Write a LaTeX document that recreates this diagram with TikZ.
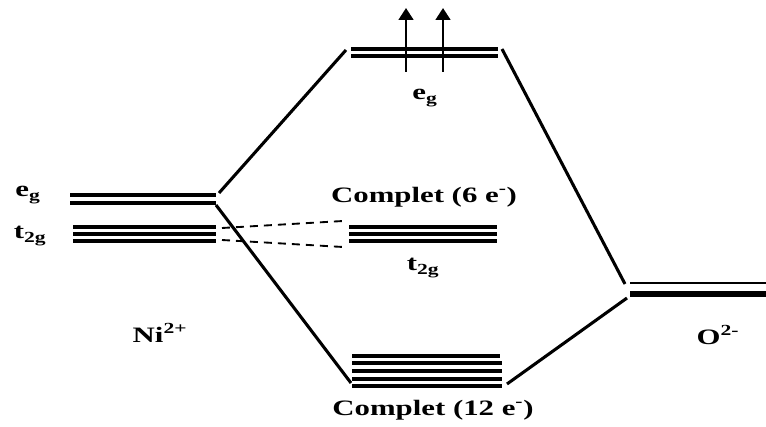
\documentclass[tikz,border=0pt]{standalone}
\usepackage{fontspec}
\setmainfont{Liberation Serif}[FakeStretch=1.4]
\usetikzlibrary{arrows.meta}
\tikzset{
  lvl/.style={line width=2.5pt},
  lvlthick/.style={line width=3.6pt},
  conn/.style={line width=2.3pt},
  dconn/.style={line width=1.4pt, dash pattern=on 6pt off 4.5pt},
  spin/.style={line width=2pt, -{Triangle[width=11pt,length=9pt]}},
  lbl/.style={font=\fontsize{16.5}{18}\selectfont\bfseries, inner sep=0pt},
}
\begin{document}
\begin{tikzpicture}[x=0.75pt,y=-0.75pt]
\useasboundingbox (0,0) rectangle (766,427);
% left Ni levels
\draw[lvl] (70,195) -- (216,195);
\draw[lvl] (70,203) -- (216,203);
\foreach \y in {227,234,241} \draw[lvl] (73,\y) -- (216,\y);
% top eg
\draw[lvl] (351,49) -- (498,49);
\draw[lvl] (351,56) -- (498,56);
% middle t2g
\foreach \y in {227,234,241} \draw[lvl] (349,\y) -- (497,\y);
% bottom bonding
\draw[lvlthick] (352,356) -- (500,356);
\foreach \y in {363,371,379,386} \draw[lvl] (352,\y) -- (502,\y);
% O levels
\draw[line width=1.9pt] (630,283) -- (766,283);
\draw[line width=4pt] (630,294) -- (766,294);
% coordinates
\coordinate (egL) at (219,193);
\coordinate (egLb) at (216,205);
\coordinate (egT) at (346,50);
\coordinate (egTr) at (502,49);
\coordinate (bL) at (351,383);
\coordinate (bR) at (507,384);
\coordinate (Ot) at (625,284);
\coordinate (Ob) at (627,298);
\coordinate (tL1) at (222,228);
\coordinate (tL2) at (222,240);
\coordinate (tM1) at (343,221);
\coordinate (tM2) at (343,247);
\coordinate (a1s) at (406,72);
\coordinate (a1e) at (406,8);
\coordinate (a2s) at (443,72);
\coordinate (a2e) at (443,8);
% connectors
\draw[conn] (egL) -- (egT);
\draw[conn] (egLb) -- (bL);
\draw[conn] (egTr) -- (Ot);
\draw[conn] (Ob) -- (bR);
\draw[dconn] (tL1) -- (tM1);
\draw[dconn] (tL2) -- (tM2);
\draw[spin] (a1s) -- (a1e);
\draw[spin] (a2s) -- (a2e);
% labels
\node[lbl] (egtop) at (425,98) {e\textsubscript{g}};
\node[lbl] (c6) at (424,197) {Complet (6 e\textsuperscript{-})};
\node[lbl] (t2m) at (423,268) {t\textsubscript{2g}};
\node[lbl] (c12) at (433,410) {Complet (12 e\textsuperscript{-})};
\node[lbl] (egl) at (28,195) {e\textsubscript{g}};
\node[lbl] (t2l) at (30,236) {t\textsubscript{2g}};
\node[lbl] (ni) at (160,333) {Ni\textsuperscript{2+}};
\node[lbl] (o) at (718,335) {O\textsuperscript{2-}};
\end{tikzpicture}
\end{document}
